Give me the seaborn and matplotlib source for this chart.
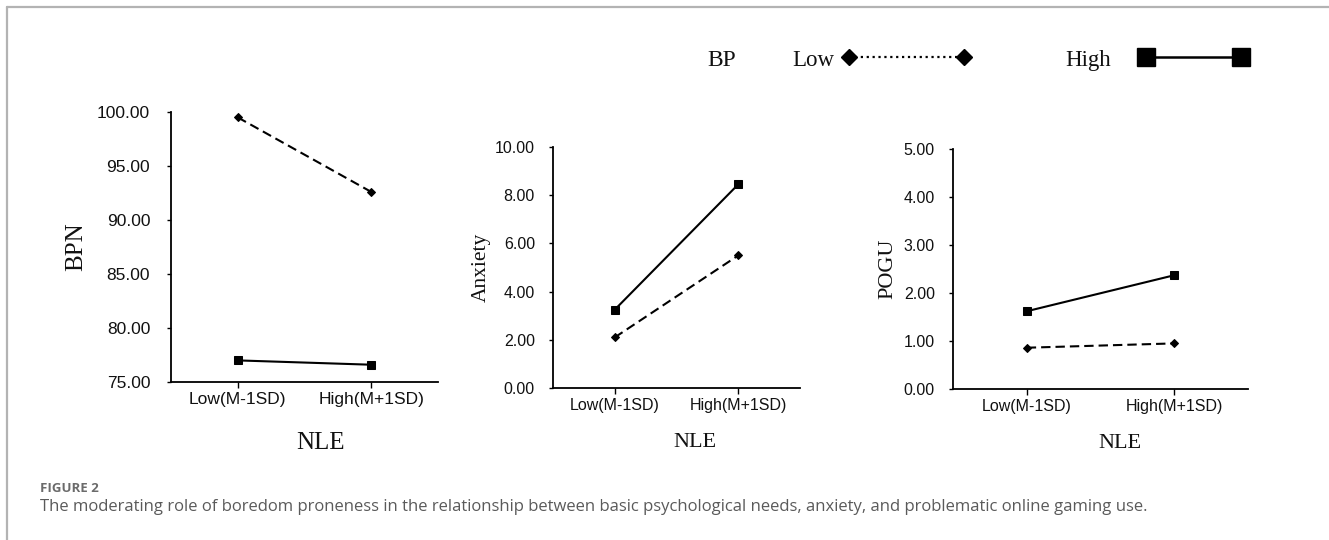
import matplotlib
matplotlib.use("Agg")
import matplotlib.pyplot as plt
from matplotlib.lines import Line2D
import seaborn as sns
import pandas as pd

# ---------------- data ----------------
nle_levels = ["Low(M-1SD)", "High(M+1SD)"]
bp_levels = ["Low", "High"]

bpn_low = [99.5, 92.6]
bpn_high = [77.0, 76.6]
anx_low = [2.1, 5.5]
anx_high = [3.25, 8.45]
pogu_low = [0.86, 0.95]
pogu_high = [1.62, 2.37]

panel_names = ["BPN", "Anxiety", "POGU"]
y_ticks = [[75, 80, 85, 90, 95, 100], [0, 2, 4, 6, 8, 10], [0, 1, 2, 3, 4, 5]]

caption_head = "FIGURE 2"
caption_text = ("The moderating role of boredom proneness in the relationship between basic "
                "psychological needs, anxiety, and problematic online gaming use.")

sns.set_theme(style="white")
plt.rcParams["font.family"] = ["Liberation Sans", "DejaVu Sans"]

W, H = 1329, 540
fig = plt.figure(figsize=(W / 100, H / 100), dpi=100)


def frac(left, top, right, bottom):
    return [left / W, 1 - bottom / H, (right - left) / W, (bottom - top) / H]


axes_px = [(171, 112, 438, 382), (553, 147, 800, 388), (953, 149, 1248, 389)]
tick_fs = [12.5, 11.5, 11.5]
ytick_pad = [12, 10, 10]
ylab_fs = [18, 15.5, 16]
xlab_fs = [18, 16, 16]
ylab_x = [-0.356, -0.29, -0.22]
xlab_pos = [(0.558, -0.226), (0.575, -0.228), (0.566, -0.225)]

series = [(bpn_low, bpn_high), (anx_low, anx_high), (pogu_low, pogu_high)]

for i, name in enumerate(panel_names):
    ax = fig.add_axes(frac(*axes_px[i]))
    low, high = series[i]
    df = pd.DataFrame({
        "NLE": nle_levels * 2,
        "value": list(low) + list(high),
        "BP": [bp_levels[0]] * 2 + [bp_levels[1]] * 2,
    })
    sns.lineplot(data=df, x="NLE", y="value", style="BP", ax=ax, color="black",
                 markers={"Low": "D", "High": "s"},
                 dashes={"Low": (4.5, 2.4), "High": ""},
                 linewidth=1.5, markersize=6.2, markeredgecolor="black",
                 legend=False, sort=False)
    for ln in ax.lines:
        if ln.get_marker() == "D":
            ln.set_markersize(4.5)
    ax.set_xlim(-0.5, 1.5)
    yt = y_ticks[i]
    ax.set_ylim(yt[0], yt[-1])
    ax.set_yticks(yt)
    ax.set_yticklabels([f"{v:.2f}" for v in yt])
    ax.set_xticks([0, 1])
    ax.set_xticklabels(nle_levels)
    sns.despine(ax=ax)
    for s in ["left", "bottom"]:
        ax.spines[s].set_color("black")
        ax.spines[s].set_linewidth(1.3)
    ax.tick_params(axis="both", direction="out", length=4, width=1.0, color="black",
                   labelsize=tick_fs[i], labelcolor="#111111", pad=3, left=True, bottom=True)
    ax.tick_params(axis="y", length=3, pad=ytick_pad[i])
    ax.set_ylabel(name, family=["Liberation Serif"], fontsize=ylab_fs[i], color="#111111")
    ax.yaxis.set_label_coords(ylab_x[i], 0.5)
    ax.yaxis.label.set_va("center")
    ax.set_xlabel("NLE", family=["Liberation Serif"], fontsize=xlab_fs[i], color="#111111")
    ax.xaxis.set_label_coords(*xlab_pos[i])
    ax.xaxis.label.set_va("center")
    ax.grid(False)

# ---------------- legend ----------------
leg_y = 1 - 60 / H
fig.text(707 / W, leg_y, "BP", family=["Liberation Serif"], fontsize=17, va="center", ha="left",
         color="#111111")
low_handle = Line2D([], [], color="black", linestyle=":", linewidth=1.6, marker="D",
                    markersize=8.5, markerfacecolor="black")
high_handle = Line2D([], [], color="black", linestyle="-", linewidth=1.8, marker="s",
                     markersize=13, markerfacecolor="black")
leg_fs = 16.5
leg_px = leg_fs * 100 / 72
for handle, label, x0, hl, pad in [
    (low_handle, bp_levels[0], 792, 129 / leg_px, 8 / leg_px),
    (high_handle, bp_levels[1], 1065, 109 / leg_px, 28 / leg_px),
]:
    lg = fig.legend(handles=[handle], labels=[label], loc="center left",
                    bbox_to_anchor=(x0 / W, leg_y), frameon=False, markerfirst=False,
                    numpoints=2, handlelength=hl, handletextpad=pad, borderpad=0,
                    borderaxespad=0, prop={"family": "Liberation Serif", "size": leg_fs})
    for t in lg.get_texts():
        t.set_color("#111111")

# ---------------- frame ----------------
frame_col = "#b3b3b3"
fig.add_artist(Line2D([7 / W, 1], [1 - 6.5 / H, 1 - 6.5 / H], color=frame_col, linewidth=1.6,
                      transform=fig.transFigure))
fig.add_artist(Line2D([7 / W, 7 / W], [0, 1 - 6.5 / H], color=frame_col, linewidth=1.6,
                      transform=fig.transFigure))

# ---------------- caption ----------------
fig.text(40 / W, 1 - 492 / H, caption_head, family=["Open Sans", "DejaVu Sans"], fontsize=9.5,
         fontweight="bold", color="#6b6b6b", va="baseline", ha="left")
fig.text(40 / W, 1 - 511 / H, caption_text, family=["Open Sans", "DejaVu Sans"], fontsize=12,
         color="#5a5a5a", va="baseline", ha="left")

fig.savefig("out.png", dpi=100)
